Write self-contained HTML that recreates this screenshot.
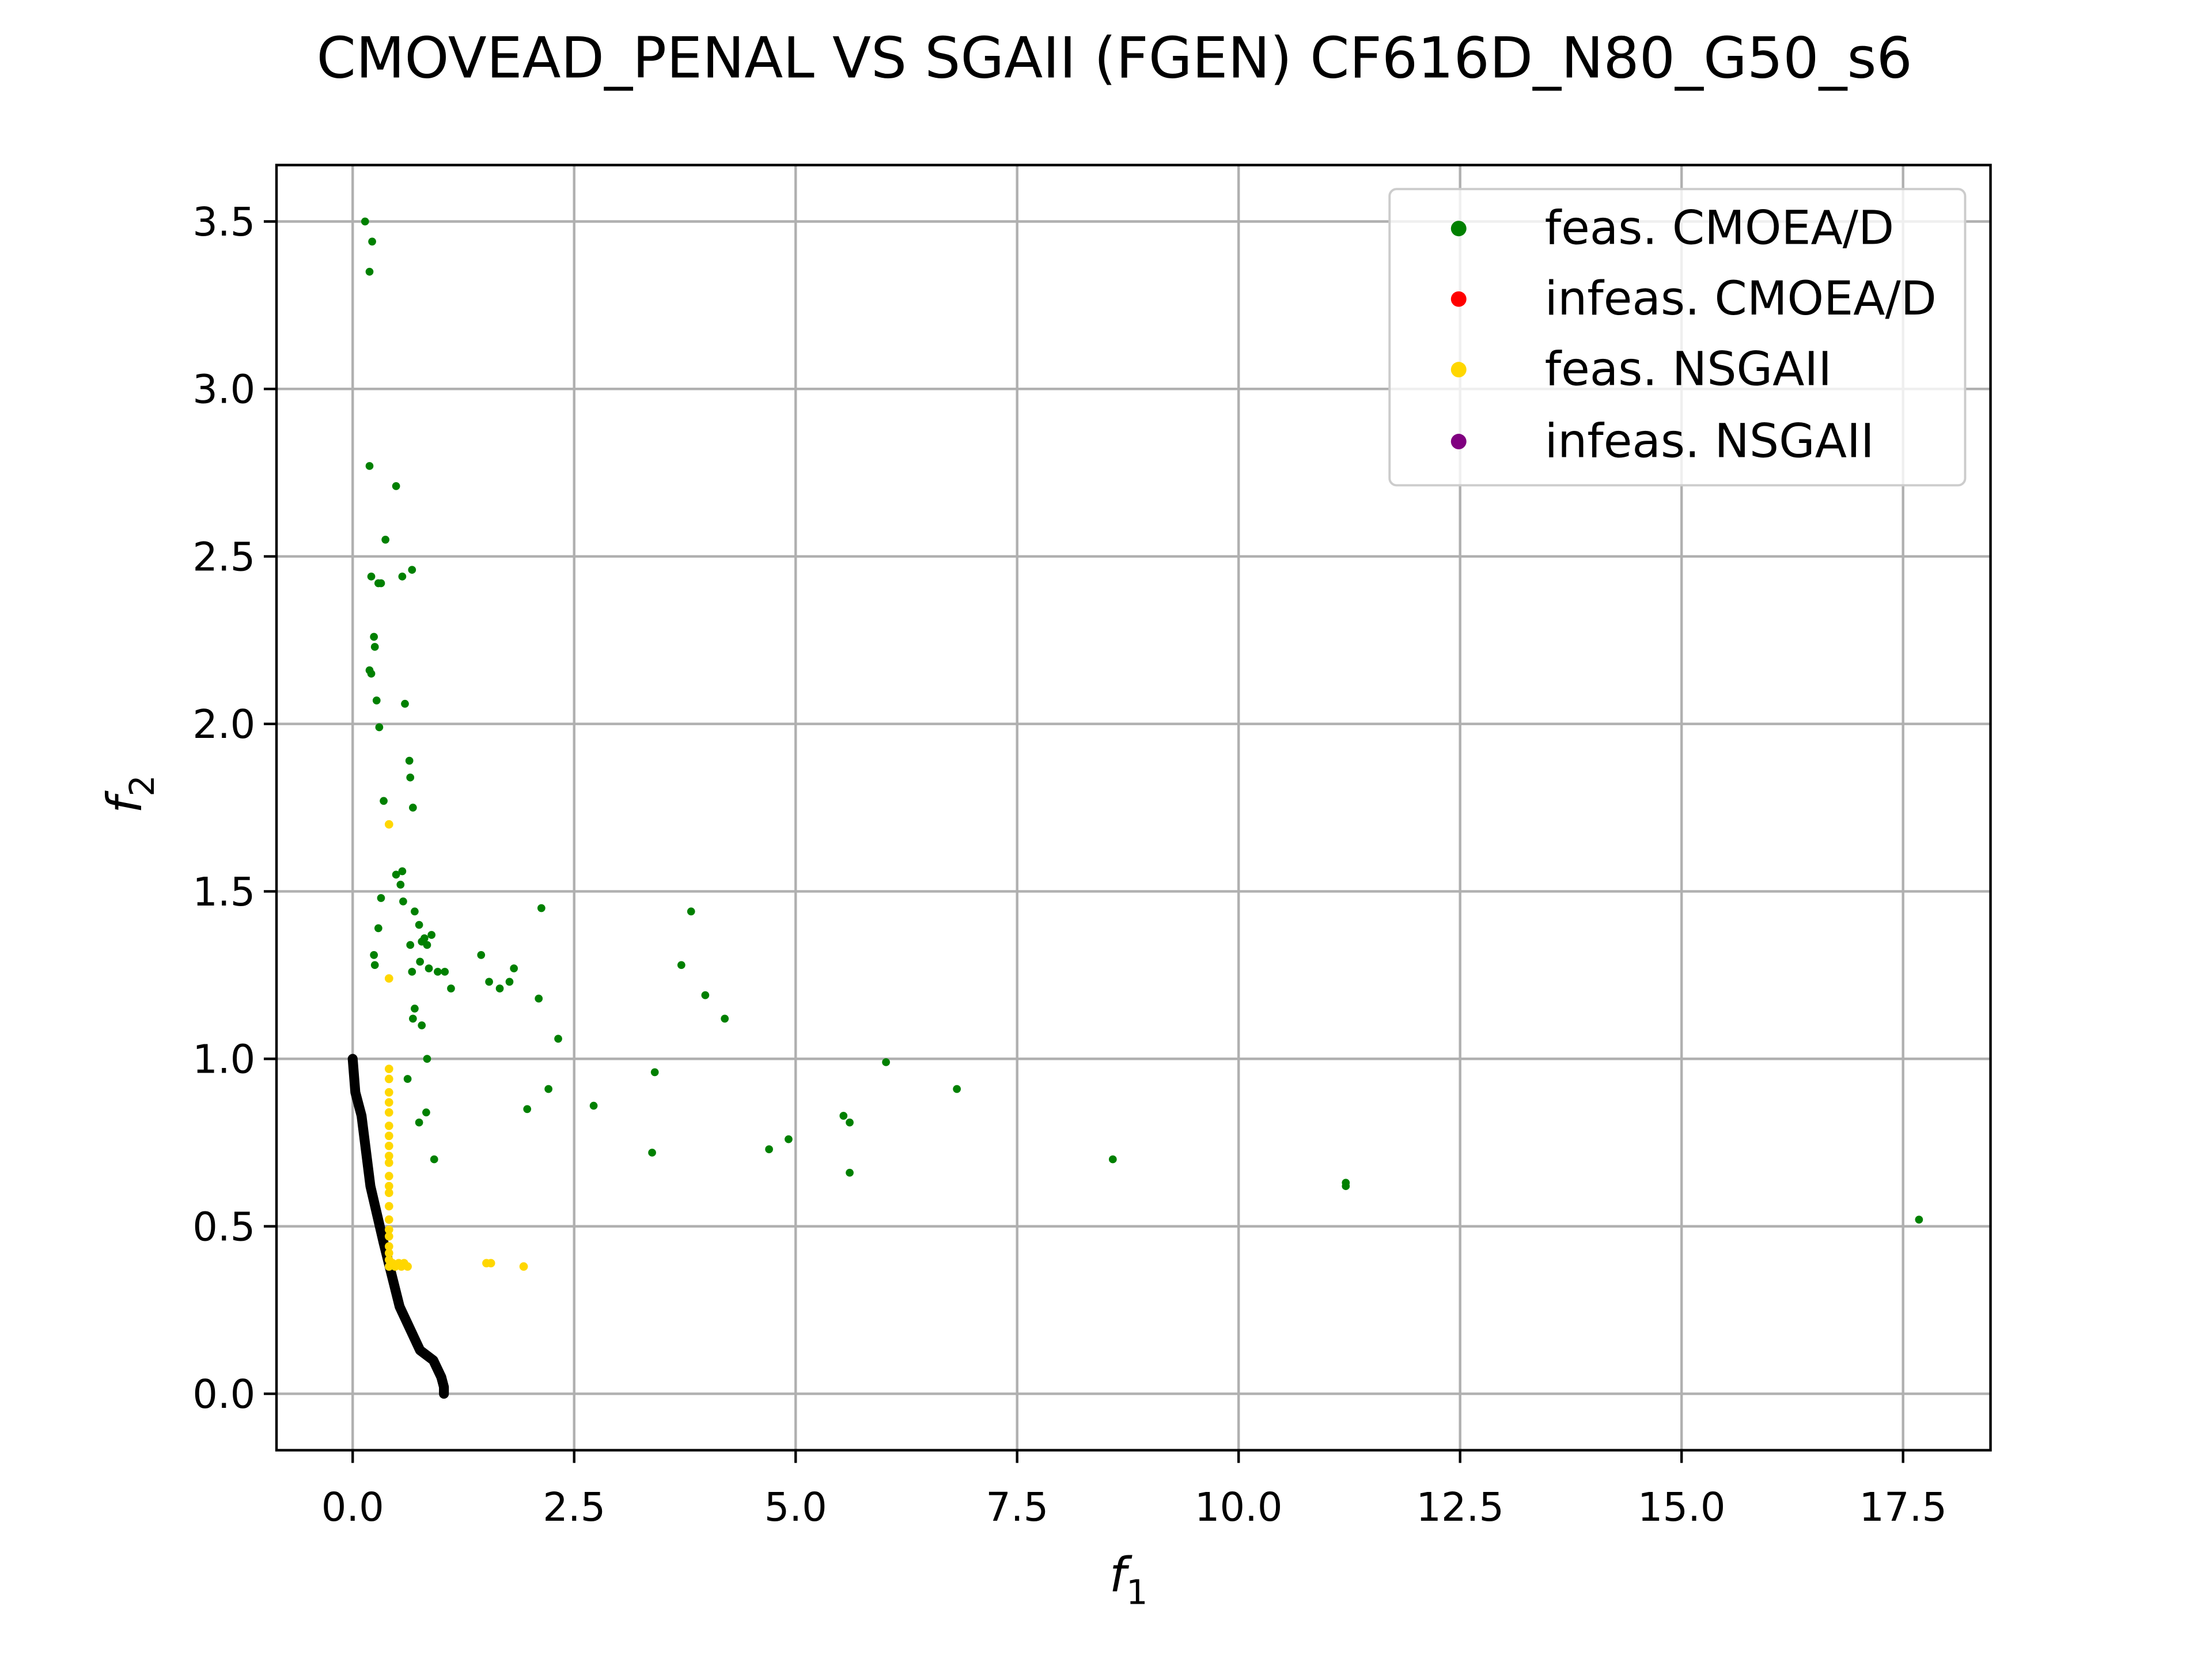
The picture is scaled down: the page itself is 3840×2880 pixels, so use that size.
<!DOCTYPE html>
<html><head><meta charset="utf-8"><style>
html,body{margin:0;padding:0;background:#fff}
svg{display:block}
text{font-family:"DejaVu Sans","Liberation Sans",sans-serif;fill:#000}
</style></head><body>
<svg id="chart" width="3840" height="2880" viewBox="0 0 1568 1176" preserveAspectRatio="none" xmlns="http://www.w3.org/2000/svg">
<rect x="0" y="0" width="1568" height="1176" fill="#fff"/>
<text x="790" y="55" font-size="40" text-anchor="middle">CMOVEAD_PENAL VS SGAII (FGEN) CF616D_N80_G50_s6</text>
<g id="grid"></g>
<g id="marks"></g>
<rect x="196" y="117" width="1215" height="911" fill="none" stroke="#000" stroke-width="1.8"/>
<g id="ticks"></g>
<text x="800" y="1128" font-size="34" font-style="italic" text-anchor="middle">f<tspan font-size="24" dy="9" font-style="normal">1</tspan></text>
<text transform="translate(100,563) rotate(-90)" font-size="34" font-style="italic" text-anchor="middle">f<tspan font-size="24" dy="9" font-style="normal">2</tspan></text>
<g>
<rect x="985" y="134" width="408" height="210" rx="5" fill="#fff" fill-opacity="0.8" stroke="#ccc" stroke-width="1.6"/>
<circle cx="1034" cy="162" r="5.5" fill="green"/><text x="1095" y="173" font-size="33">feas. CMOEA/D</text>
<circle cx="1034" cy="212" r="5.5" fill="red"/><text x="1095" y="223" font-size="33">infeas. CMOEA/D</text>
<circle cx="1034" cy="262" r="5.5" fill="gold"/><text x="1095" y="273" font-size="33">feas. NSGAII</text>
<circle cx="1034" cy="313" r="5.5" fill="purple"/><text x="1095" y="324" font-size="33">infeas. NSGAII</text>
</g>
</svg>
<script>
const xTicks=[0,2.5,5,7.5,10,12.5,15,17.5];
const xTickLabels=["0.0","2.5","5.0","7.5","10.0","12.5","15.0","17.5"];
const yTicks=[0,0.5,1,1.5,2,2.5,3,3.5];
const yTickLabels=["0.0","0.5","1.0","1.5","2.0","2.5","3.0","3.5"];
const greenX=[0.14,0.22,0.19,0.19,0.49,0.37,0.67,0.21,0.29,0.32,0.56,0.24,0.25,0.19,0.21,0.27,0.59,0.30,0.64,0.65,0.35,0.68,0.56,0.49,0.54,0.32,0.57,0.70,0.29,0.75,0.81,0.89,0.65,0.78,0.84,0.24,0.25,0.76,0.67,0.86,0.96,1.04,1.11,0.70,0.68,0.78,0.84,0.62,0.75,0.83,0.92,2.13,1.45,1.54,1.66,1.77,1.82,2.10,2.32,2.21,1.97,2.72,3.82,3.71,3.98,4.20,3.41,3.38,4.70,4.92,5.54,5.61,6.02,5.61,6.82,8.58,11.21,11.21,17.68];
const greenY=[3.50,3.44,3.35,2.77,2.71,2.55,2.46,2.44,2.42,2.42,2.44,2.26,2.23,2.16,2.15,2.07,2.06,1.99,1.89,1.84,1.77,1.75,1.56,1.55,1.52,1.48,1.47,1.44,1.39,1.40,1.36,1.37,1.34,1.35,1.34,1.31,1.28,1.29,1.26,1.27,1.26,1.26,1.21,1.15,1.12,1.10,1.00,0.94,0.81,0.84,0.70,1.45,1.31,1.23,1.21,1.23,1.27,1.18,1.06,0.91,0.85,0.86,1.44,1.28,1.19,1.12,0.96,0.72,0.73,0.76,0.83,0.81,0.99,0.66,0.91,0.70,0.63,0.62,0.52];
const yellowX=[0.41,0.41,0.41,0.41,0.41,0.41,0.41,0.41,0.41,0.41,0.41,0.41,0.41,0.41,0.41,0.41,0.41,0.41,0.41,0.41,0.41,0.41,0.41,0.45,0.48,0.52,0.55,0.58,0.62,1.51,1.56,1.93];
const yellowY=[1.70,1.24,0.97,0.94,0.90,0.87,0.84,0.80,0.77,0.74,0.71,0.69,0.65,0.62,0.60,0.56,0.52,0.49,0.47,0.44,0.42,0.40,0.38,0.39,0.38,0.39,0.38,0.39,0.38,0.39,0.39,0.38];
const frontX=[0,0.03,0.1,0.2,0.35,0.53,0.76,0.91,1.0,1.03,1.03];
const frontY=[1.0,0.9,0.83,0.62,0.45,0.26,0.13,0.10,0.05,0.02,0];
const NS="http://www.w3.org/2000/svg";
const L=196,R=1411,T=117,B=1028;
const X0=250,XS=(1349-250)/17.5,Y0=988,YS=(988-157)/3.5;
function sx(v){return X0+v*XS;}
function sy(v){return Y0-v*YS;}
function mk(tag,attrs,parent){const e=document.createElementNS(NS,tag);for(const k in attrs)e.setAttribute(k,attrs[k]);parent.appendChild(e);return e;}
const grid=document.getElementById('grid'),ticks=document.getElementById('ticks'),marks=document.getElementById('marks');
xTicks.forEach((v,i)=>{
 const g=mk('line',{x1:sx(v),x2:sx(v),y1:T,y2:B,stroke:'#b0b0b0','stroke-width':1.8},grid);
 
 
 mk('line',{x1:sx(v),x2:sx(v),y1:B,y2:B+9,stroke:'#000','stroke-width':1.8},ticks);
 const t=mk('text',{x:sx(v),y:B+50,'font-size':28,'text-anchor':'middle'},ticks);
 t.textContent=xTickLabels[i];
 
 
});
yTicks.forEach((v,i)=>{
 const g=mk('line',{x1:L,x2:R,y1:sy(v),y2:sy(v),stroke:'#b0b0b0','stroke-width':1.8},grid);
 
 
 mk('line',{x1:L-9,x2:L,y1:sy(v),y2:sy(v),stroke:'#000','stroke-width':1.8},ticks);
 const t=mk('text',{x:L-15,y:sy(v)+10,'font-size':28,'text-anchor':'end'},ticks);
 t.textContent=yTickLabels[i];
 
 
});
const pl=mk('polyline',{points:frontX.map((x,i)=>sx(x)+','+sy(frontY[i])).join(' '),fill:'none',stroke:'#000','stroke-width':7,'stroke-linejoin':'round','stroke-linecap':'round'},marks);


greenX.forEach((x,i)=>{
 const c=mk('circle',{cx:sx(x),cy:sy(greenY[i]),r:2.8,fill:'green'},marks);
 
 
});
yellowX.forEach((x,i)=>{
 const c=mk('circle',{cx:sx(x),cy:sy(yellowY[i]),r:3,fill:'gold'},marks);
 
 
});
</script>
</body></html>
